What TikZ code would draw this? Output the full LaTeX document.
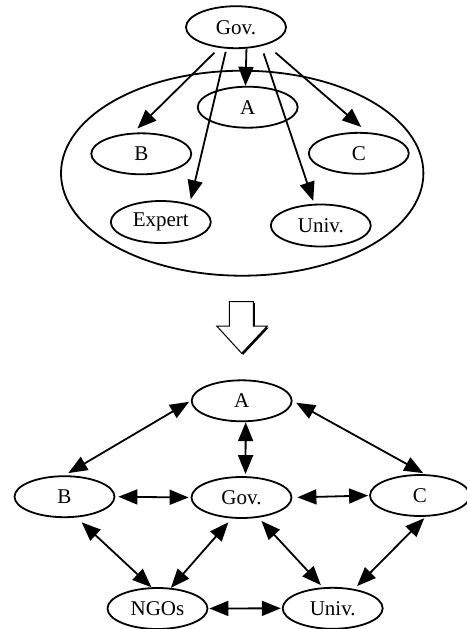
\documentclass[tikz,border=0pt]{standalone}
\usepackage{fontspec}
\setmainfont{Liberation Serif}
\usetikzlibrary{shapes.geometric,arrows.meta}
\tikzset{
  ell/.style={ellipse, draw, line width=0.9pt, minimum width=50pt, minimum height=20.5pt, inner sep=0pt, font=\fontsize{10.5pt}{12pt}\selectfont},
  arr/.style={-{Triangle[length=9.5pt,width=7.5pt]}, line width=0.9pt},
  both/.style={{Triangle[length=9.5pt,width=7.5pt]}-{Triangle[length=9.5pt,width=7.5pt]}, line width=0.9pt}
}
\begin{document}
\begin{tikzpicture}[x=0.5pt,y=-0.5pt]
\useasboundingbox (0,0) rectangle (467,629);
% ---- top diagram ----
\node[ellipse, draw, line width=0.9pt, minimum width=181.2pt, minimum height=102.5pt, inner sep=0pt] (grp) at (242.2,173.2) {};
\node[ell, minimum height=21pt] (G1) at (236,27.2) {Gov.};
\node[ell] (A1) at (247.7,107.2) {A};
\node[ell] (B1) at (141.3,153.8) {B};
\node[ell] (C1) at (358.8,153.3) {C};
\node[ell, minimum height=21pt] (E1) at (160.8,222) {Expert};
\node[ell, minimum height=21pt] (U1) at (320.8,225.5) {Univ.};
\draw[arr, shorten <=3.4pt, shorten >=3pt] (G1.231) -- (B1.111);
\draw[arr, shorten <=1.6pt, shorten >=2.4pt] (G1.246) -- (E1.32);
\draw[arr] (G1.296) -- (A1.96);
\draw[arr, shorten <=3.8pt, shorten >=1.5pt] (G1.323) -- (U1.107);
\draw[arr, shorten <=6pt, shorten >=4pt] (G1.330) -- (C1.68);
% ---- big down arrow ----
\fill[black] (230.8,303.2) -- (254.8,303.2) -- (254.8,327.5) -- (268.8,327.5) -- (243.2,354.8) -- (218.2,327.5) -- (230.8,327.5) -- cycle;
\draw[fill=white, line width=0.5pt] (229.3,301.7) -- (253.3,301.7) -- (253.3,326) -- (267.3,326) -- (241.7,353.3) -- (216.7,326) -- (229.3,326) -- cycle;
% ---- bottom diagram ----
\node[ell] (A2) at (241.7,400.8) {A};
\node[ell] (B2) at (64.5,496.7) {B};
\node[ell] (G2) at (241.5,497.5) {Gov.};
\node[ell] (C2) at (420,495.5) {C};
\node[ell] (N2) at (157.5,608.5) {NGOs};
\node[ell] (U2) at (332.7,608.3) {Univ.};
\draw[both, shorten <=2.2pt, shorten >=1pt] (B2.north) -- (A2.west);
\draw[both, shorten >=1pt] ([xshift=2pt]A2.south) -- ([xshift=2pt]G2.north);
\draw[both, shorten <=2pt, shorten >=1pt] (A2.east) -- ([xshift=2.5pt]C2.north);
\draw[both, shorten <=1.5pt, shorten >=1pt] (B2.east) -- (G2.west);
\draw[both, shorten <=2.5pt, shorten >=0.5pt] (G2.east) -- (C2.west);
\draw[both, shorten <=3.5pt] (B2.300) -- (N2.106);
\draw[both, shorten <=2.5pt] (G2.245) -- (N2.57);
\draw[both, shorten <=2.2pt, shorten >=1.5pt] (G2.310) -- (U2.115);
\draw[both, shorten <=1pt, shorten >=2pt] (C2.285) -- (U2.42);
\draw[both, shorten <=0.5pt, shorten >=0.5pt] (N2.east) -- (U2.west);
\end{tikzpicture}
\end{document}
